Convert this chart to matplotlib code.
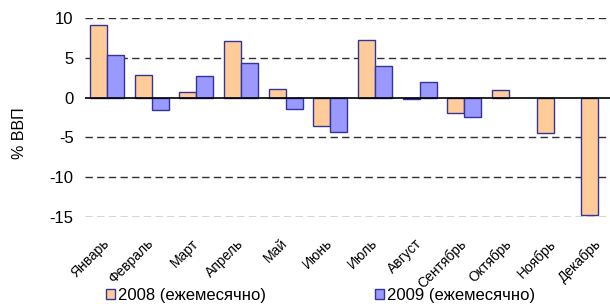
import matplotlib
matplotlib.use("Agg")
import matplotlib.pyplot as plt
import matplotlib.transforms as mtransforms
import numpy as np

months = ["Январь", "Февраль", "Март", "Апрель", "Май", "Июнь", "Июль",
          "Август", "Сентябрь", "Октябрь", "Ноябрь", "Декабрь"]
vals_2008 = [9.1, 2.8, 0.75, 7.1, 1.1, -3.6, 7.2, -0.2, -1.9, 0.9, -4.4, -14.7]
vals_2009 = [5.3, -1.5, 2.7, 4.3, -1.4, -4.3, 4.0, 2.0, -2.4, np.nan, np.nan, np.nan]
series_labels = ["2008 (ежемесячно)", "2009 (ежемесячно)"]
yticks = [10, 5, 0, -5, -10, -15]

plt.rcParams['font.family'] = ['Liberation Sans', 'DejaVu Sans']

W, H = 610, 304
fig = plt.figure(figsize=(W / 100, H / 100), dpi=100)
ax = fig.add_axes([84.65 / W, 1 - 217 / H, (610 - 84.65) / W, (217 - 18) / H])

x = np.arange(len(months))
bw = 0.38
edge = "#333399"
ax.bar(x - bw / 2, vals_2008, width=bw, color="#FFCC99", edgecolor=edge,
       linewidth=1, zorder=3, label=series_labels[0])
ax.bar(x + bw / 2, vals_2009, width=bw, color="#9999FF", edgecolor=edge,
       linewidth=1, zorder=3, label=series_labels[1])

for t in yticks:
    if t == 0:
        ax.axhline(0, color="black", lw=1.2, zorder=4)
    else:
        ax.axhline(t, color="#303030", lw=1, linestyle=(0, (5.3, 3.1)), zorder=1)

ax.set_ylim(-15, 10)
ax.set_xlim(-0.5, 11.26)
ax.set_yticks(yticks)
ax.set_yticklabels([str(t) for t in yticks], fontsize=12)
ax.set_xticks(x)
ax.set_xticklabels(months, rotation=45, ha="right", rotation_mode="anchor", fontsize=10)
ax.tick_params(axis="both", length=0)
ax.tick_params(axis="x", pad=14)
ax.tick_params(axis="y", pad=8)
offset = mtransforms.ScaledTranslation(-5 / 100, 0, fig.dpi_scale_trans)
for lbl in ax.get_xticklabels():
    lbl.set_transform(lbl.get_transform() + offset)
for s in ax.spines.values():
    s.set_visible(False)

fig.text(19 / W, 1 - 133 / H, "% ВВП", rotation=90, ha="center", va="center", fontsize=11.5)

fig.legend(loc="center left", bbox_to_anchor=(106 / W, 1 - 295.5 / H), ncol=2,
           frameon=False, fontsize=12, handlelength=0.55, handleheight=0.55,
           handletextpad=0.2, columnspacing=6.5, borderpad=0, borderaxespad=0)

fig.savefig("out.png", dpi=100)
